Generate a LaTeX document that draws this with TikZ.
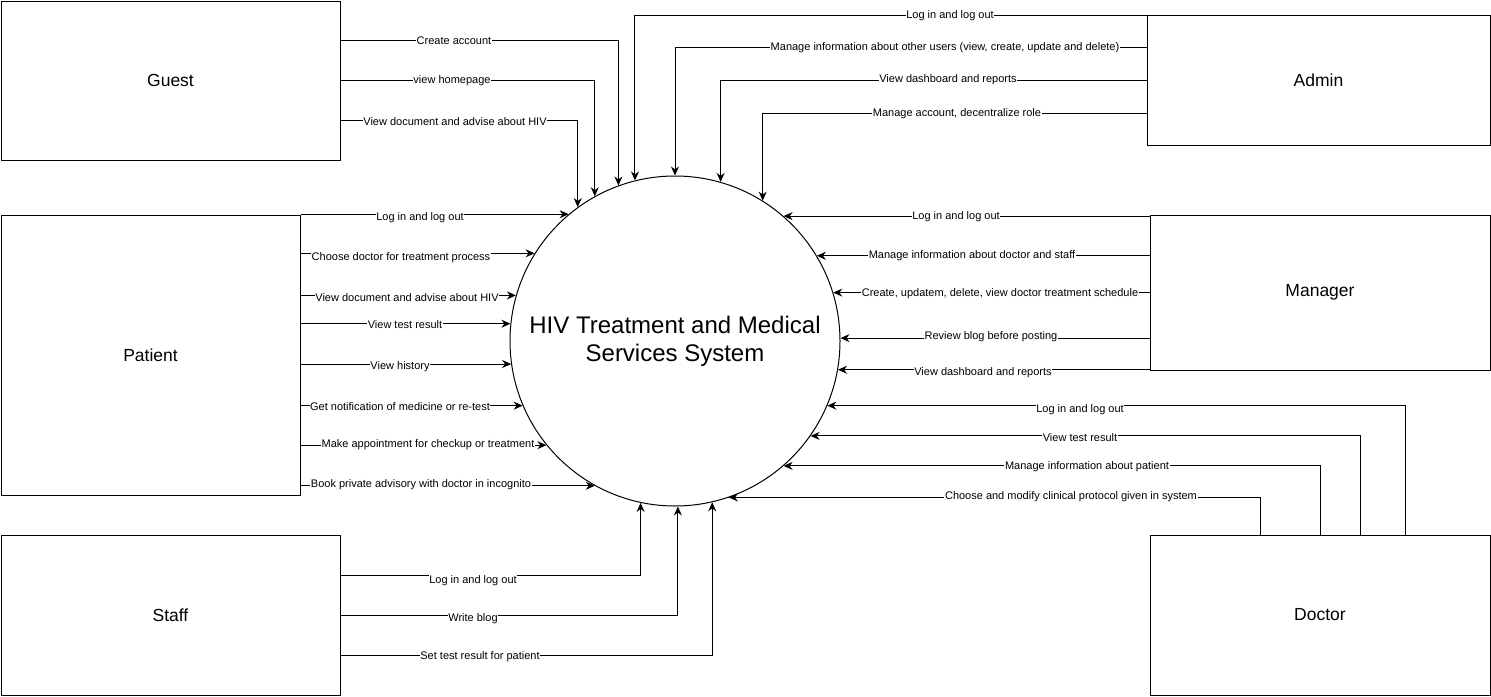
\documentclass[tikz,border=0pt]{standalone}
\usepackage{fontspec}
\setmainfont{Liberation Sans}
\usetikzlibrary{arrows.meta}
\begin{document}
\begin{tikzpicture}[x=1pt,y=-1pt,
  box/.style={draw, line width=1pt, inner sep=0pt, font=\fontsize{17.5}{21}\selectfont},
  flow/.style={line width=1pt, -{Stealth[length=9pt,width=8pt]}},
  lbl/.style={fill=white, inner sep=0.6pt, yshift=-1pt, font=\fontsize{11}{13}\selectfont}]
\useasboundingbox (0,0) rectangle (1491,696);
% external entities
\node[box, minimum width=339, minimum height=159] (guest)   at (170.5,80.5)   {Guest};
\node[box, minimum width=343, minimum height=130] (admin)   at (1318.5,80)    {Admin};
\node[box, minimum width=299, minimum height=280] (patient) at (150.5,355)    {Patient};
\node[box, minimum width=340, minimum height=155] (manager) at (1320,292.5)   {Manager};
\node[box, minimum width=339, minimum height=160] (staff)   at (170.5,615)    {Staff};
\node[box, minimum width=340, minimum height=160] (doctor)  at (1320,615)     {Doctor};
% process
\node[draw, circle, line width=1pt, minimum size=330, inner sep=0pt, align=center,
      font=\fontsize{24}{28}\selectfont] (sys) at (675,341) {HIV Treatment and Medical\\Services System};
% Guest
\draw[flow] (guest.east |- 0,40)  -| (sys.110.95) node[lbl] at (454,40)  {Create account};
\draw[flow] (guest.east |- 0,80)  -| (sys.119.0)  node[lbl] at (452,80)  {view homepage};
\draw[flow] (guest.east |- 0,120) -| (sys.126.87) node[lbl] at (455,121) {View document and advise about HIV};
% Admin
\draw[flow] (admin.west |- 0,15)  -| (sys.104.03) node[lbl] at (950,15)  {Log in and log out};
\draw[flow] (admin.west |- 0,47)  -| (sys.90)     node[lbl] at (945,47)  {Manage information about other users (view, create, update and delete)};
\draw[flow] (admin.west |- 0,80)  -| (sys.74.17)  node[lbl] at (948,79)  {View dashboard and reports};
\draw[flow] (admin.west |- 0,113) -| (sys.58.59)  node[lbl] at (957,113) {Manage account, decentralize role};
% Patient
\draw[flow] (patient.east |- sys.130.75) -- (sys.130.75) node[lbl] at (420,217) {Log in and log out};
\draw[flow] (patient.east |- sys.148.99) -- (sys.148.99) node[lbl] at (401,257) {Choose doctor for treatment process};
\draw[flow] (patient.east |- sys.164.53) -- (sys.164.53) node[lbl] at (407,297) {View document and advise about HIV};
\draw[flow] (patient.east |- sys.174.78) -- (sys.174.78) node[lbl] at (405,324) {View test result};
\draw[flow] (patient.east |- sys.188.71) -- (sys.188.71) node[lbl] at (400,366) {View history};
\draw[flow] (patient.east |- sys.203.2)  -- (sys.203.2)  node[lbl] at (400,406) {Get notification of medicine or re-test};
\draw[flow] (patient.east |- sys.219.52) -- (sys.219.52) node[lbl] at (428,444) {Make appointment for checkup or treatment};
\draw[flow] (patient.east |- sys.241.5)  -- (sys.241.5)  node[lbl] at (421,484) {Book private advisory with doctor in incognito};
% Manager
\draw[flow] (manager.west |- sys.49.25)  -- (sys.49.25)  node[lbl] at (956,216)  {Log in and log out};
\draw[flow] (manager.west |- sys.31.41)  -- (sys.31.41)  node[lbl] at (972,255)  {Manage information about doctor and staff};
\draw[flow] (manager.west |- sys.17.28)  -- (sys.17.28)  node[lbl] at (1000,293) {Create, updatem, delete, view doctor treatment schedule};
\draw[flow] (manager.west |- sys.1.39)   -- (sys.1.39)   node[lbl] at (991,336)  {Review blog before posting};
\draw[flow] (manager.west |- sys.-10.48) -- (sys.-10.48) node[lbl] at (983,372)  {View dashboard and reports};
% Doctor
\draw[flow] (doctor.north -| 1405,0) |- (sys.-23.2)  node[lbl] at (1080,409) {Log in and log out};
\draw[flow] (doctor.north -| 1360,0) |- (sys.-35.58) node[lbl] at (1080,437) {View test result};
\draw[flow] (doctor.north -| 1320,0) |- (sys.-49.25) node[lbl] at (1087,466) {Manage information about patient};
\draw[flow] (doctor.north -| 1260,0) |- (sys.-71.0)  node[lbl] at (1071,496) {Choose and modify clinical protocol given in system};
% Staff
\draw[flow] (staff.east |- 0,575) -| (sys.-102.6) node[lbl] at (473,580) {Log in and log out};
\draw[flow] (staff.east |- 0,615) -| (sys.-89.7)  node[lbl] at (473,618) {Write blog};
\draw[flow] (staff.east |- 0,655) -| (sys.-77.75) node[lbl] at (480,656) {Set test result for patient};
\end{tikzpicture}
\end{document}
